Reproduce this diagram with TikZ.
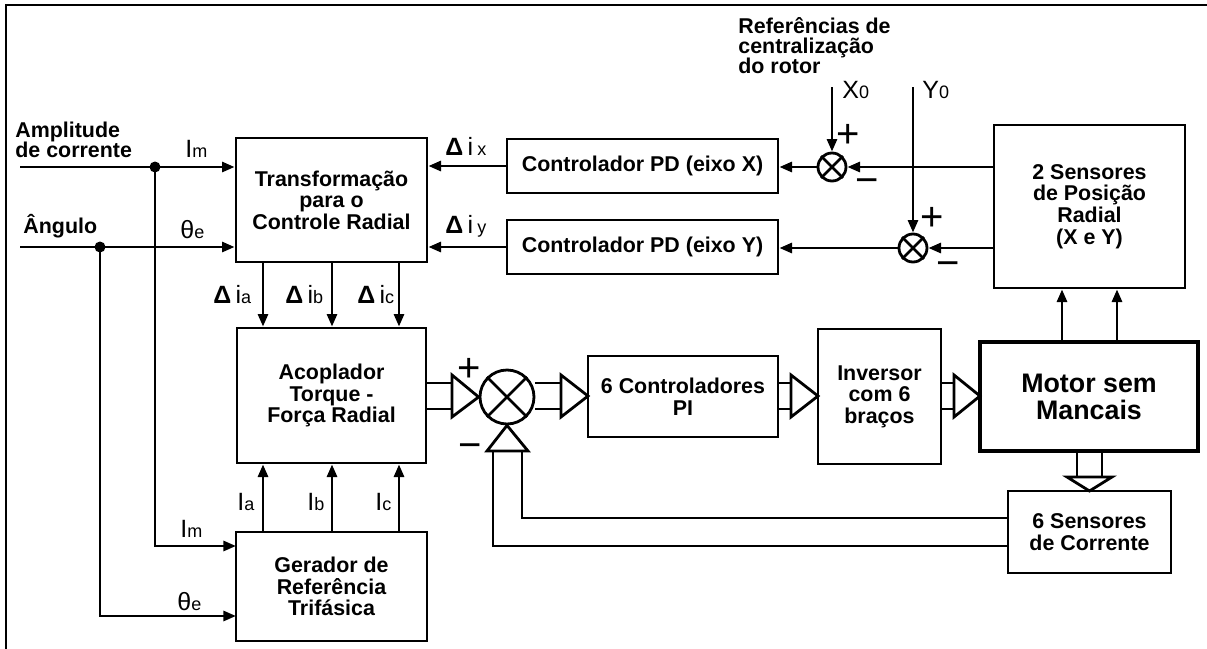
\documentclass[tikz,border=0pt]{standalone}
\usepackage{fontspec}
\setmainfont{Liberation Sans}
\usetikzlibrary{arrows.meta,calc}
\newcommand\bxfont{\fontsize{10.7}{10.8}\selectfont\bfseries}
\newcommand\txfont{\fontsize{10.7}{10}\selectfont\bfseries}
\newcommand\mtfont{\fontsize{13.4}{13.5}\selectfont\bfseries}
\newcommand\lbfont{\fontsize{12.5}{12.5}\selectfont}
\newcommand\sgfont{\fontsize{20}{20}\selectfont}
\newcommand\sbs[1]{{\fontsize{9}{9}\selectfont #1}}
\tikzset{
 ln/.style={line width=1.4pt},
 arr/.style={ln,-{Triangle[length=6.3pt,width=5pt]}},
 blk/.style={draw,ln,inner sep=0pt,align=center,font=\bxfont},
 lab/.style={inner sep=0pt,anchor=base west,font=\lbfont},
 txt/.style={inner sep=0pt,anchor=north west,align=left,font=\txfont},
 sgn/.style={inner sep=0pt,anchor=base,font=\sgfont},
 dot/.style={circle,fill,inner sep=0pt,minimum size=5.5pt},
 sumbig/.style={circle,draw,ln,inner sep=0pt,minimum size=27pt},
 sumsm/.style={circle,draw,ln,inner sep=0pt,minimum size=14pt},
 bus/.style={ln},
 bushead/.style={ln,fill=white},
}
\begin{document}
\begin{tikzpicture}[x=0.5pt,y=-0.5pt]
\useasboundingbox (0,0) rectangle (1207,649);
\draw[line width=1pt] (6,649) -- (6,5) -- (1207,5);

% blocks
\node[blk,minimum width=95.5pt,minimum height=62pt] (trans) at (331.5,200) {Transformação\\para o\\Controle Radial};
\node[blk,minimum width=135.5pt,minimum height=27pt] (pdx) at (642.5,166) {Controlador PD (eixo X)};
\node[blk,minimum width=135.5pt,minimum height=27pt] (pdy) at (642.5,247) {Controlador PD (eixo Y)};
\node[blk,minimum width=95.5pt,minimum height=81.5pt] (sens2) at (1089.5,206.5) {2 Sensores\\de Posição\\Radial\\(X e Y)};
\node[blk,minimum width=94.5pt,minimum height=67.5pt] (acop) at (331.5,395.5) {Acoplador\\Torque -\\Força Radial};
\node[blk,minimum width=95.5pt,minimum height=54.5pt] (ger) at (331.5,586.5) {Gerador de\\Referência\\Trifásica};
\node[blk,minimum width=95pt,minimum height=40.5pt] (pi) at (683,396.5) {6 Controladores\\PI};
\node[blk,minimum width=61.5pt,minimum height=67.5pt] (inv) at (879.5,396.5) {Inversor\\com 6\\braços};
\node[blk,line width=2.3pt,font=\mtfont,minimum width=109pt,minimum height=54.5pt] (motor) at (1089,396.5) {Motor sem\\Mancais};
\node[blk,minimum width=81.5pt,minimum height=41pt] (sensc) at (1089.5,532) {6 Sensores\\de Corrente};

% summing junctions
\node[sumbig] (sm) at (507,397) {};
\draw[ln] (sm.north east) -- (sm.south west) (sm.north west) -- (sm.south east);
\node[sumsm] (sx) at (832,167) {};
\draw[ln] (sx.north east) -- (sx.south west) (sx.north west) -- (sx.south east);
\node[sumsm] (sy) at (913,248) {};
\draw[ln] (sy.north east) -- (sy.south west) (sy.north west) -- (sy.south east);

% free texts
\node[txt] (amp) at (15,122) {Amplitude\\de corrente};
\node[inner sep=0pt,anchor=base west,font=\txfont] (ang) at (23,233) {Ângulo};
\node[txt] (ref) at (738,17) {Referências de\\centralização\\do rotor};

% inputs
\coordinate (inA) at (20,167);
\coordinate (inB) at (20,247);
\node[dot] (j1) at (155,167) {};
\node[dot] (j2) at (100,247) {};
\draw[arr] (inA) -- (inA -| trans.west);
\draw[arr] (inB) -- (inB -| trans.west);
\coordinate (gIm) at (236,546);
\coordinate (gTh) at (236,616);
\draw[arr] (j1.center) |- (gIm);
\draw[arr] (j2.center) |- (gTh);

% PD loop
\draw[arr] (pdx.west) -- (pdx.west -| trans.east);
\draw[arr] (pdy.west) -- (pdy.west -| trans.east);
\draw[arr] (sx.west) -- (sx.west -| pdx.east);
\draw[arr] (sy.west) -- (sy.west -| pdy.east);
\draw[arr] (sx -| sens2.west) -- (sx.east);
\draw[arr] (sy -| sens2.west) -- (sy.east);
\coordinate (x0) at (832,87);
\coordinate (y0) at (913,87);
\draw[arr] (x0) -- (sx.north);
\draw[arr] (y0) -- (sy.north);

% vertical arrows
\coordinate (ca) at (263,0);
\coordinate (cb) at (332,0);
\coordinate (cc) at (399,0);
\foreach \c in {ca,cb,cc}{
  \draw[arr] (trans.south -| \c) -- (acop.north -| \c);
  \draw[arr] (ger.north -| \c) -- (acop.south -| \c);
}
\coordinate (m1) at (1062,0);
\coordinate (m2) at (1117,0);
\draw[arr] (motor.north -| m1) -- (sens2.south -| m1);
\draw[arr] (motor.north -| m2) -- (sens2.south -| m2);

% bus arrows
\draw[bus] (426,383) -- (452,383) (426,409) -- (452,409);
\draw[bushead] (452,375) -- (sm.west) -- (452,417) -- cycle;
\draw[bus] (535,383) -- (561,383) (535,409) -- (561,409);
\draw[bushead] (561,375) -- (588,396) -- (561,417) -- cycle;
\draw[bus] (778,383) -- (791,383) (778,409) -- (791,409);
\draw[bushead] (791,375) -- (818,396) -- (791,417) -- cycle;
\draw[bus] (941,383) -- (954,383) (941,409) -- (954,409);
\draw[bushead] (954,375) -- (980,396) -- (954,417) -- cycle;
\draw[bus] (1077,451) -- (1077,477) (1102,451) -- (1102,477);
\draw[bushead] (1067,477) -- (1089.5,491) -- (1112,477) -- cycle;
\coordinate (fb1) at (1008,518);
\coordinate (fb2) at (1008,546);
\draw[bus] (fb1) -- (522,518) -- (522,451);
\draw[bus] (fb2) -- (493,546) -- (493,451);
\draw[bushead] (487,451) -- (sm.south) -- (528,451) -- cycle;

% signs
\node[sgn] (pm) at (469,381) {+};
\node[sgn] (mm) at (470,458) {−};
\node[sgn] (px) at (848,147) {+};
\node[sgn] (mx) at (867,193) {−};
\node[sgn] (py) at (932,230) {+};
\node[sgn] (my) at (948,276) {−};

% labels
\node[lab] (lIm) at (185,157) {I\sbs{m}};
\node[lab] (lTh) at (180,238) {θ\sbs{e}};
\node[lab] (lix) at (445,155) {\textbf{Δ}\,i\,\sbs{x}};
\node[lab] (liy) at (445,233) {\textbf{Δ}\,i\,\sbs{y}};
\node[lab] (lia) at (213,303) {\textbf{Δ}\,i\sbs{a}};
\node[lab] (lib) at (285,303) {\textbf{Δ}\,i\sbs{b}};
\node[lab] (lic) at (357,303) {\textbf{Δ}\,i\sbs{c}};
\node[lab] (lIa) at (237,510) {I\sbs{a}};
\node[lab] (lIb) at (307,510) {I\sbs{b}};
\node[lab] (lIc) at (375,510) {I\sbs{c}};
\node[lab] (lIm2) at (180,537) {I\sbs{m}};
\node[lab] (lTh2) at (177,610) {θ\sbs{e}};
\node[lab] (lX0) at (842,98) {X\sbs{0}};
\node[lab] (lY0) at (922,98) {Y\sbs{0}};
\end{tikzpicture}
\end{document}
